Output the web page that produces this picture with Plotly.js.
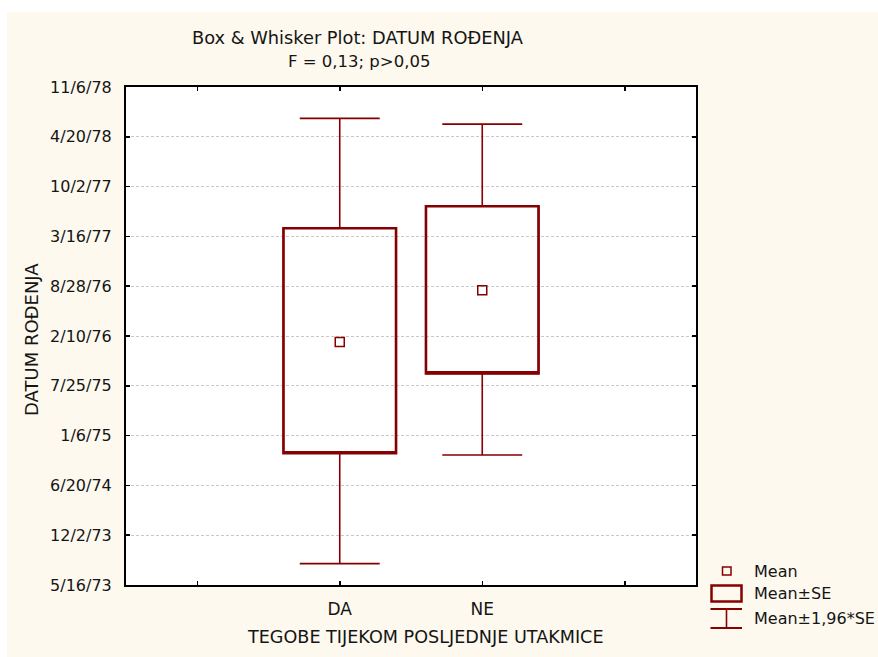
<!DOCTYPE html>
<html>
<head>
<meta charset="utf-8">
<script src="https://cdn.plot.ly/plotly-3.0.1.min.js"></script>
<style>
  html, body { margin: 0; padding: 0; background: #ffffff; }
  #chart { position: absolute; left: 7px; top: 12px; width: 871px; height: 645px; }
</style>
</head>
<body>
<div id="chart"></div>
<script>
// ---- data ----
const categories = ['DA', 'NE'];
const catPositions = [0, 1];
const meanDates  = ['1976-01-17', '1976-08-12'];
const seLow      = ['1974-10-27', '1975-09-13'];
const seHigh     = ['1977-04-18', '1977-07-15'];
const ciLow      = ['1973-08-10', '1974-10-20'];
const ciHigh     = ['1978-07-03', '1978-06-10'];
const yTickDates = ['1973-05-16','1973-12-02','1974-06-20','1975-01-06','1975-07-25',
                    '1976-02-10','1976-08-28','1977-03-16','1977-10-02','1978-04-20','1978-11-06'];
const xTickVals  = [-1, 0, 1, 2];
const xTickText  = ['', categories[0], categories[1], ''];
const legendLabels = ['Mean', 'Mean±SE', 'Mean±1,96*SE'];
const titleLines = ['Box & Whisker Plot: DATUM ROĐENJA', 'F = 0,13; p>0,05'];
const xTitle = 'TEGOBE TIJEKOM POSLJEDNJE UTAKMICE';
const yTitle = 'DATUM ROĐENJA';

// ---- styling ----
const RED = '#850000';
const FONT = 'DejaVu Sans, Liberation Sans, Arial, sans-serif';
const TXT = '#151515';
const W = 871, H = 645;
const M = {l: 119, r: 182, t: 75, b: 72};
const PW = W - M.l - M.r, PH = H - M.t - M.b;
// page px (reference coords) -> paper coords
const px = x => (x - 7 - M.l) / PW;
const py = y => (H - M.b - (y - 12)) / PH;

const whiskers = {
  type: 'box', x: catPositions,
  q1: seLow, median: seLow, q3: seHigh,
  lowerfence: ciLow, upperfence: ciHigh,
  width: 0.79, whiskerwidth: 0.71,
  line: {color: RED, width: 1.6},
  fillcolor: 'rgba(0,0,0,0)',
  boxpoints: false, hoverinfo: 'skip', showlegend: false
};
const boxes = {
  type: 'box', x: catPositions,
  q1: seLow, median: seLow, q3: seHigh,
  lowerfence: seLow, upperfence: seHigh,
  width: 0.79, whiskerwidth: 0,
  line: {color: RED, width: 2.6},
  fillcolor: 'rgba(0,0,0,0)',
  boxpoints: false, hoverinfo: 'skip', showlegend: false
};
const means = {
  type: 'scatter', mode: 'markers', x: catPositions, y: meanDates,
  marker: {symbol: 'square-open', size: 9, color: RED, line: {width: 1.5, color: RED}},
  hoverinfo: 'skip', showlegend: false
};

const ann = (text, x, y, size, opts) => Object.assign({
  text: text, xref: 'paper', yref: 'paper', x: x, y: y,
  xanchor: 'center', yanchor: 'middle',
  showarrow: false, font: {family: FONT, size: size, color: TXT}
}, opts || {});

const annotations = [
  ann(titleLines[0], px(358), py(37), 17.8),
  ann(titleLines[1], px(359), py(61), 16.5),
  ann(xTitle, px(425), py(637), 17.6),
  ann(yTitle, px(31), py(340), 18, {textangle: -90}),
  ann(legendLabels[0], px(752), py(571), 16, {xanchor: 'left'}),
  ann(legendLabels[1], px(752), py(593), 16, {xanchor: 'left'}),
  ann(legendLabels[2], px(752), py(618), 16, {xanchor: 'left'})
];

const shapes = [
  // legend: mean square
  {type: 'rect', xref: 'paper', yref: 'paper', x0: px(722.5), x1: px(731), y0: py(575), y1: py(567),
   line: {color: RED, width: 1.5}},
  // legend: box
  {type: 'rect', xref: 'paper', yref: 'paper', x0: px(711.5), x1: px(741.5), y0: py(601.5), y1: py(585.5),
   line: {color: RED, width: 2.5}},
  // legend: whisker
  {type: 'line', xref: 'paper', yref: 'paper', x0: px(710.5), x1: px(742), y0: py(609), y1: py(609),
   line: {color: RED, width: 2}},
  {type: 'line', xref: 'paper', yref: 'paper', x0: px(710.5), x1: px(742), y0: py(628), y1: py(628),
   line: {color: RED, width: 2}},
  {type: 'line', xref: 'paper', yref: 'paper', x0: px(726.5), x1: px(726.5), y0: py(609), y1: py(628),
   line: {color: RED, width: 1.6}}
];

const layout = {
  width: W, height: H,
  margin: M,
  paper_bgcolor: '#FDF9EE',
  plot_bgcolor: '#FFFFFF',
  showlegend: false,
  boxmode: 'overlay',
  font: {family: FONT, size: 16, color: TXT},
  xaxis: {
    type: 'linear', range: [-1.5, 2.5],
    tickmode: 'array', tickvals: xTickVals, ticktext: xTickText,
    ticks: 'inside', ticklen: 4, tickwidth: 1.5, tickcolor: '#000',
    showline: true, linecolor: '#000', linewidth: 2, mirror: 'ticks',
    showgrid: false, zeroline: false,
    tickfont: {family: FONT, size: 17, color: TXT},
    ticklabelstandoff: 8
  },
  yaxis: {
    type: 'date', range: [yTickDates[0], yTickDates[yTickDates.length - 1]],
    tickmode: 'array', tickvals: yTickDates, tickformat: '%-m/%-d/%y',
    ticks: 'inside', ticklen: 4, tickwidth: 1.5, tickcolor: '#000',
    showline: true, linecolor: '#000', linewidth: 2, mirror: 'ticks',
    showgrid: true, gridcolor: '#C8C8C8', gridwidth: 1, griddash: '3px,2px',
    zeroline: false,
    tickfont: {family: FONT, size: 16, color: TXT},
    ticklabelstandoff: 9
  },
  annotations: annotations,
  shapes: shapes
};

Plotly.newPlot('chart', [whiskers, boxes, means], layout, {staticPlot: true, displayModeBar: false});
</script>
</body>
</html>
